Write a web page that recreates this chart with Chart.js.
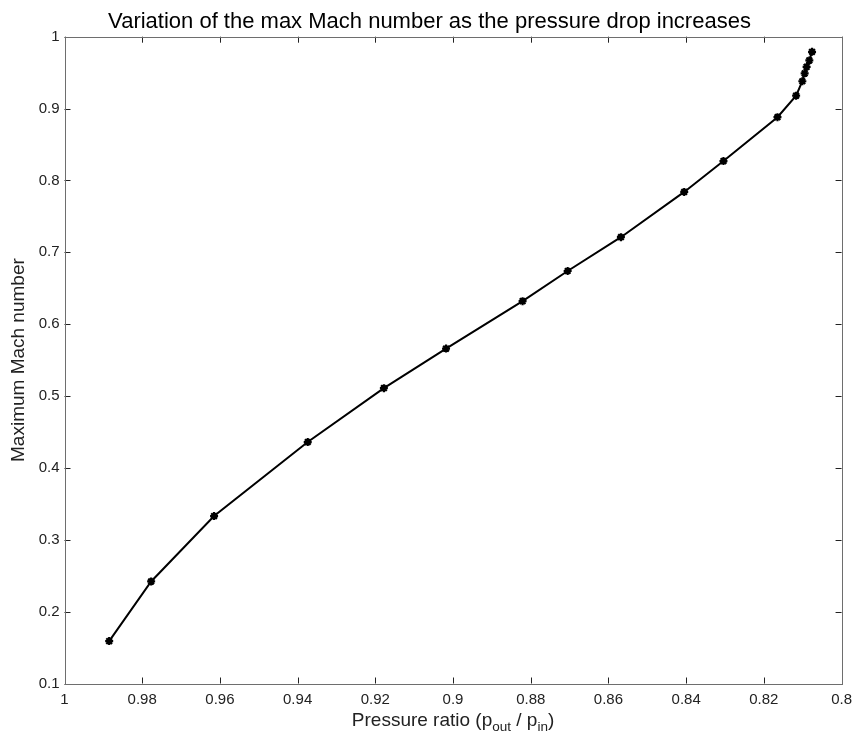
<!DOCTYPE html>
<html>
<head>
<meta charset="utf-8">
<title>Max Mach number vs pressure ratio</title>
<script src="https://cdn.jsdelivr.net/npm/chart.js@4/dist/chart.umd.min.js"></script>
<style>
  html, body { margin: 0; padding: 0; background: #fff; }
  #wrap { width: 859px; height: 742px; }
</style>
</head>
<body>
<div id="wrap"><canvas id="c" width="859" height="742"></canvas></div>
<script>
// Pressure ratio p_out / p_in for each run
const pressureRatio = [0.9885, 0.9777, 0.9615, 0.9374, 0.9178, 0.9018, 0.8821, 0.8705, 0.8568, 0.8405, 0.8304, 0.8165, 0.8117, 0.8101, 0.8095, 0.8090, 0.8083, 0.8076];
// Maximum Mach number reached in each run
const maxMach = [0.159, 0.242, 0.333, 0.436, 0.511, 0.566, 0.632, 0.674, 0.721, 0.784, 0.827, 0.888, 0.918, 0.938, 0.949, 0.958, 0.967, 0.979];

// Axis ticks
const xTickValues = [1, 0.98, 0.96, 0.94, 0.92, 0.9, 0.88, 0.86, 0.84, 0.82, 0.8];
const xTickLabels = ['1', '0.98', '0.96', '0.94', '0.92', '0.9', '0.88', '0.86', '0.84', '0.82', '0.8'];
const yTickValues = [0.1, 0.2, 0.3, 0.4, 0.5, 0.6, 0.7, 0.8, 0.9, 1];
const yTickLabels = ['0.1', '0.2', '0.3', '0.4', '0.5', '0.6', '0.7', '0.8', '0.9', '1'];

// Titles
const chartTitle = 'Variation of the max Mach number as the pressure drop increases';
const yTitle = 'Maximum Mach number';
// x title pieces: [text, isSubscript]
const xTitleParts = [['Pressure ratio (p', false], ['out', true], [' / p', false], ['in', true], [')', false]];

const points = pressureRatio.map((x, i) => ({ x: x, y: maxMach[i] }));

const FONT = "'Liberation Sans', Arial, Helvetica, sans-serif";

// Box around the axes with short inward tick marks on all four sides
const boxAxes = {
  id: 'boxAxes',
  afterDraw(chart) {
    const { ctx, chartArea: a, scales } = chart;
    const len = 6;
    ctx.save();
    ctx.strokeStyle = '#222';
    ctx.lineWidth = 1;
    ctx.beginPath();
    scales.x.ticks.forEach(t => {
      const px = Math.round(scales.x.getPixelForValue(t.value)) + 0.5;
      ctx.moveTo(px, a.bottom); ctx.lineTo(px, a.bottom - len);
      ctx.moveTo(px, a.top); ctx.lineTo(px, a.top + len);
    });
    scales.y.ticks.forEach(t => {
      const py = Math.round(scales.y.getPixelForValue(t.value)) + 0.5;
      ctx.moveTo(a.left, py); ctx.lineTo(a.left + len, py);
      ctx.moveTo(a.right, py); ctx.lineTo(a.right - len, py);
    });
    ctx.stroke();
    ctx.strokeStyle = '#6e6e6e';
    ctx.strokeRect(Math.round(a.left) + 0.5, Math.round(a.top) + 0.5,
                   Math.round(a.right - a.left), Math.round(a.bottom - a.top));
    ctx.restore();
  }
};

// Chart title and axis titles (the x title carries subscripts)
const titles = {
  id: 'titles',
  afterDraw(chart) {
    const { ctx, chartArea: a, width } = chart;
    const cx = (a.left + a.right) / 2;
    ctx.save();
    ctx.fillStyle = '#000';
    ctx.textAlign = 'center';
    ctx.textBaseline = 'alphabetic';
    ctx.font = '22px ' + FONT;
    ctx.fillText(chartTitle, width / 2, 28);

    // y title, rotated
    ctx.fillStyle = '#222';
    ctx.font = '19px ' + FONT;
    ctx.save();
    ctx.translate(19, (a.top + a.bottom) / 2);
    ctx.rotate(-Math.PI / 2);
    ctx.textBaseline = 'middle';
    ctx.fillText(yTitle, 0, 0);
    ctx.restore();

    // x title with subscripts
    const main = 19, sub = 13.5, base = 726;
    const widths = xTitleParts.map(([t, s]) => {
      ctx.font = (s ? sub : main) + 'px ' + FONT;
      return ctx.measureText(t).width;
    });
    const total = widths.reduce((p, w) => p + w, 0);
    let x = cx - total / 2;
    ctx.textAlign = 'left';
    ctx.textBaseline = 'alphabetic';
    xTitleParts.forEach(([t, s], i) => {
      ctx.font = (s ? sub : main) + 'px ' + FONT;
      ctx.fillText(t, x, s ? base + 5 : base);
      x += widths[i];
    });
    ctx.restore();
  }
};

new Chart(document.getElementById('c'), {
  type: 'scatter',
  data: {
    datasets: [{
      data: points,
      showLine: true,
      borderColor: '#000',
      backgroundColor: '#000',
      borderWidth: 2,
      tension: 0,
      pointStyle: 'star',
      pointRadius: 4,
      pointBorderWidth: 2.2,
      pointBorderColor: '#000',
      pointBackgroundColor: '#000'
    }]
  },
  options: {
    responsive: false,
    animation: false,
    layout: { padding: { left: 0, right: 12.5, top: 36.7, bottom: 0 } },
    plugins: {
      legend: { display: false },
      tooltip: { enabled: false },
      title: { display: false }
    },
    scales: {
      x: {
        type: 'linear',
        reverse: true,
        min: 0.8,
        max: 1,
        afterBuildTicks: s => { s.ticks = xTickValues.map(v => ({ value: v })); },
        afterFit: s => { s.height = 58.5; },
        grid: { display: false, drawTicks: false },
        border: { display: false },
        ticks: {
          color: '#222',
          font: { family: FONT, size: 15 },
          padding: 7,
          autoSkip: false,
          maxRotation: 0,
          callback: (v) => xTickLabels[xTickValues.indexOf(v)]
        },
        title: { display: false }
      },
      y: {
        type: 'linear',
        min: 0.1,
        max: 1,
        afterBuildTicks: s => { s.ticks = yTickValues.map(v => ({ value: v })); },
        afterFit: s => { s.width = 64.5; },
        grid: { display: false, drawTicks: false },
        border: { display: false },
        ticks: {
          color: '#222',
          font: { family: FONT, size: 15 },
          padding: 5,
          autoSkip: false,
          callback: (v) => yTickLabels[yTickValues.indexOf(v)]
        },
        title: { display: false }
      }
    }
  },
  plugins: [boxAxes, titles]
});
</script>
</body>
</html>
